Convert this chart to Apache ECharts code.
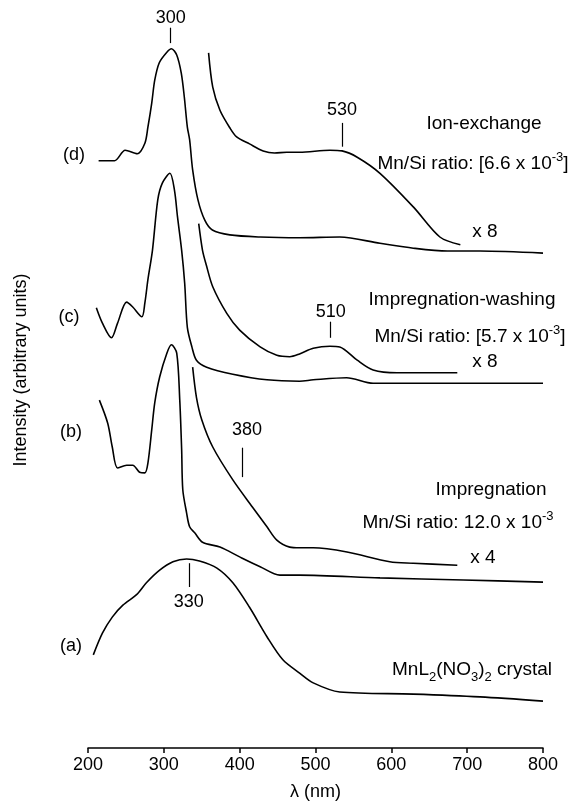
<!DOCTYPE html>
<html><head><meta charset="utf-8">
<script src="https://cdn.jsdelivr.net/npm/echarts@6/dist/echarts.min.js"></script>
<style>html,body{margin:0;padding:0;background:#fff}#c{width:574px;height:806px}</style>
</head><body><div id="c"></div>
<script>
// wavelength axis (nm)
const xMin = 200, xMax = 800, xStep = 100;

// (d) Ion-exchange: main spectrum and x8 expansion  [wavelength nm, intensity a.u.]
const curveD = [[214,83.9],[235,83.9],[249,85.4],[265,84.9],[275,86.4],[279,88.7],[284,92.1],[288,95.4],[294,97.9],[304,99.4],[310,99.9],[317,99.0],[323,96.4],[327,93.0],[331,88.7],[334,86.9],[338,82.6],[345,78.3],[354,75.4],[364,74.0],[387,73.3],[427,73.0],[479,72.9],[532,73.0],[585,72.1],[629,71.4],[674,71.0],[717,71.0],[800,70.7]];
const curveDx8 = [[359,99.3],[364.5,94.4],[374,91.1],[387,88.6],[396,87.3],[413,86.3],[431,85.3],[446,85.0],[462,85.1],[479,85.1],[519,85.4],[535,85.3],[555,84.4],[585,82.1],[629,77.3],[664,73.0],[691,71.9]];

// (c) Impregnation-washing
const curveC = [[211,62.9],[219,60.7],[231,58.6],[239,60.7],[251,63.7],[259,63.0],[271,61.6],[275,63.6],[279,66.9],[285,71.1],[292,78.3],[298,80.7],[308,82.1],[314,79.7],[318,75.9],[323.5,71.1],[327.5,66.4],[331,60.1],[337,57.3],[343,55.4],[356.5,54.4],[391,53.4],[436,52.6],[479,52.4],[497,52.6],[541,52.9],[576,52.1],[674,52.1],[800,52.1]];
const curveCx8 = [[346,74.9],[351,71.1],[356,69.0],[364.5,65.9],[383,62.1],[400,59.7],[427,57.3],[449,56.1],[466,55.9],[479,56.3],[497,57.1],[519,57.4],[532,57.3],[555,55.4],[576,54.0],[607.5,53.6],[687,53.6]];

// (b) Impregnation
const curveB = [[215,49.7],[226,46.4],[232,43.0],[239,40.0],[251,40.4],[259,40.4],[268,39.4],[275,39.3],[279,40.7],[284,45.4],[288,49.3],[294.5,53.0],[304,56.4],[310,57.6],[317,56.4],[321,49.7],[323.5,42.6],[325,36.9],[330,33.6],[334,31.6],[341,30.7],[351,29.4],[374,28.7],[400,27.3],[427,25.9],[453,24.7],[479,24.7],[585,24.3],[695,24.0],[800,23.7]];
const curveBx4 = [[338,54.4],[343,50.1],[350,46.9],[364.5,43.0],[391,38.3],[417,34.4],[436,31.6],[449,29.7],[466,28.7],[479,28.6],[497,28.6],[541.5,28.0],[598,26.6],[629,26.4],[687,26.1]];

// (a) MnL2(NO3)2 crystal
const curveA = [[207,13.3],[219,16.4],[232,18.7],[246,20.4],[264,21.9],[277,23.6],[294.5,25.4],[312,26.6],[330,27.0],[347,26.7],[370,25.7],[391,23.6],[413,20.1],[436,15.9],[457,12.6],[479,10.7],[497,9.3],[532,8.0],[629,7.7],[717,7.3],[800,6.7]];

// peak markers: label, wavelength, tick start / end intensity
const peakLabels = ['300','530','510','380','330'];
const peakX = [309, 535, 520, 403, 333];
const peakY0 = [100.7, 85.9, 58.6, 38.7, 26.4];
const peakY1 = [102.9, 89.3, 60.9, 42.9, 23.0];

const FONT = "'Liberation Sans', Arial, Helvetica, sans-serif";
const chart = echarts.init(document.getElementById('c'), null, {renderer:'canvas'});

function peakMark(i, dist, pad) {
  return {
    symbol:['none','none'], silent:true, animation:false,
    lineStyle:{color:'#000', width:1.2, type:'solid'},
    label:{show:true, position:'end', distance:dist, formatter:peakLabels[i], color:'#000', fontSize:18, fontFamily:FONT, padding:pad||0},
    emphasis:{disabled:true},
    data:[[{coord:[peakX[i], peakY0[i]]},{coord:[peakX[i], peakY1[i]]}]]
  };
}
function line(data, mark) {
  const s = {type:'line', data:data, showSymbol:false, smooth:0.3, silent:true,
    lineStyle:{color:'#000', width:1.6}, emphasis:{disabled:true}, animation:false};
  if (mark) s.markLine = mark;
  return s;
}
function txt(x, y, text, rich, size) {
  const st = {text:text, x:0, y:0, fill:'#000', font:(size||19) + 'px ' + FONT, align:'center', verticalAlign:'middle'};
  if (rich) st.rich = rich;
  return {type:'text', x:x, y:y, silent:true, style:st};
}
const supRich = {
  n:{fontSize:19, fontFamily:FONT, lineHeight:23, verticalAlign:'bottom'},
  s:{fontSize:13, fontFamily:FONT, verticalAlign:'top'}
};
const subRich = {
  n:{fontSize:19, fontFamily:FONT, lineHeight:23, verticalAlign:'top'},
  s:{fontSize:13, fontFamily:FONT, verticalAlign:'bottom'}
};

chart.setOption({
  animation:false,
  backgroundColor:'#fff',
  grid:{left:88, right:31, top:6, bottom:58, containLabel:false},
  xAxis:{type:'value', min:xMin, max:xMax, interval:xStep,
    name:'λ (nm)', nameLocation:'middle', nameGap:35,
    nameTextStyle:{fontSize:18, color:'#000', fontFamily:FONT},
    axisLine:{show:true, lineStyle:{color:'#000', width:1.5}},
    axisTick:{show:true, inside:false, length:5, lineStyle:{color:'#000', width:1.5}},
    axisLabel:{fontSize:18, color:'#000', margin:8, fontFamily:FONT},
    splitLine:{show:false}},
  yAxis:{type:'value', min:0, max:106, show:true,
    axisLine:{show:false}, axisTick:{show:false}, axisLabel:{show:false}, splitLine:{show:false}},
  series:[
    line(curveD, peakMark(0, 1)),
    line(curveDx8, peakMark(1, 4)),
    line(curveC),
    line(curveCx8, peakMark(2, 1)),
    line(curveB),
    line(curveBx4, peakMark(3, 9, [0,0,0,10])),
    line(curveA, peakMark(4, 6))
  ],
  graphic:[
    {type:'text', x:21.5, y:370, rotation:Math.PI/2, silent:true,
      style:{text:'Intensity (arbitrary units)', fill:'#000', font:'18px ' + FONT, align:'center', verticalAlign:'middle'}},
    txt(74, 155, '(d)', null, 18),
    txt(69, 317, '(c)', null, 18),
    txt(71, 432, '(b)', null, 18),
    txt(71, 646, '(a)', null, 18),
    txt(484, 124, 'Ion-exchange'),
    txt(473, 162, '{n|Mn/Si ratio: [6.6 x 10}{s|-3}{n|]}', supRich),
    txt(485, 232, 'x 8'),
    txt(462, 300, 'Impregnation-washing'),
    txt(470, 335, '{n|Mn/Si ratio: [5.7 x 10}{s|-3}{n|]}', supRich),
    txt(485, 362, 'x 8'),
    txt(491, 490, 'Impregnation'),
    txt(458, 521, '{n|Mn/Si ratio: 12.0 x 10}{s|-3}', supRich),
    txt(483, 558, 'x 4'),
    txt(472, 672, '{n|MnL}{s|2}{n|(NO}{s|3}{n|)}{s|2}{n| crystal}', subRich)
  ]
});
</script>
</body></html>
